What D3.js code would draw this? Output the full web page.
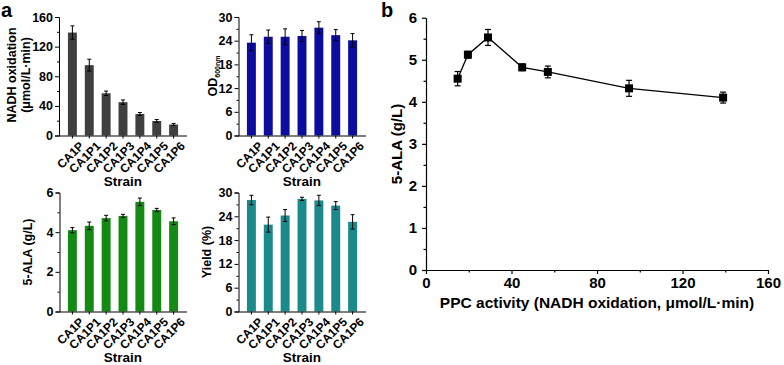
<!DOCTYPE html>
<html>
<head>
<meta charset="utf-8">
<script src="https://cdn.jsdelivr.net/npm/d3@7"></script>
<style>
  body { margin: 0; background: #fff; }
  svg text { font-family: Arial, "Liberation Sans", sans-serif; font-weight: bold; fill: #000; }
</style>
</head>
<body>
<div id="dataviz"></div>
<script>
// strain data
var strains = ["CA1P", "CA1P1", "CA1P2", "CA1P3", "CA1P4", "CA1P5", "CA1P6"];
var nadh = [139, 95, 57, 45, 29, 19.6, 14.8];
var nadhErr = [9, 8, 3, 3, 2, 2, 1.5];
var od = [23.5, 25.0, 25.0, 25.2, 27.3, 25.4, 24.1];
var odErr = [2.0, 1.7, 2.0, 1.4, 1.5, 1.4, 1.7];
var ala = [4.1, 4.32, 4.71, 4.82, 5.53, 5.12, 4.55];
var alaErr = [0.13, 0.19, 0.14, 0.08, 0.19, 0.08, 0.17];
var yieldPct = [28.1, 21.9, 24.2, 28.4, 28.0, 26.7, 22.6];
var yieldErr = [1.2, 1.9, 1.5, 0.4, 1.3, 1.0, 1.8];

var W = 784, H = 365;
var svg = d3.select("#dataviz").append("svg")
    .attr("width", W).attr("height", H);
var fmt = d3.format("d");

// small bar panel
function barPanel(opt) {
    var g = svg.append("g");
    var x = d3.scaleBand().domain(strains).range([opt.x0, opt.x1]).padding(0.47);
    var y = d3.scaleLinear().domain([0, opt.max]).range([opt.yb, opt.yt]);

    // bars
    g.selectAll(".bar").data(strains).enter().append("rect")
        .attr("x", function(d) { return x(d); })
        .attr("width", x.bandwidth())
        .attr("y", function(d, i) { return y(opt.values[i]); })
        .attr("height", function(d, i) { return y(0) - y(opt.values[i]); })
        .attr("fill", opt.color);

    // error bars
    strains.forEach(function(d, i) {
        var cx = x(d) + x.bandwidth() / 2;
        var hi = y(opt.values[i] + opt.errs[i]);
        var lo = y(opt.values[i] - opt.errs[i]);
        g.append("line").attr("x1", cx).attr("x2", cx).attr("y1", hi).attr("y2", lo)
            .attr("stroke", "#000").attr("stroke-width", 1);
        [hi, lo].forEach(function(yy) {
            g.append("line").attr("x1", cx - 2).attr("x2", cx + 2).attr("y1", yy).attr("y2", yy)
                .attr("stroke", "#000").attr("stroke-width", 1);
        });
    });

    // y axis
    var ya = g.append("g").attr("transform", "translate(" + opt.ax + ",0)")
        .call(d3.axisLeft(y).tickValues(opt.ticks).tickFormat(fmt).tickSize(4).tickPadding(2));
    ya.selectAll("text").style("font-size", "12.5px");
    var minor = opt.ticks.slice(0, -1).map(function(t, i) { return (t + opt.ticks[i + 1]) / 2; });
    g.append("g").attr("transform", "translate(" + opt.ax + ",0)")
        .call(d3.axisLeft(y).tickValues(minor).tickSize(2).tickFormat(""))
        .select(".domain").remove();

    // x axis
    var xa = g.append("g").attr("transform", "translate(0," + opt.yb + ")")
        .call(d3.axisBottom(x).tickSize(3).tickSizeOuter(0));
    xa.select(".domain").attr("d", "M" + opt.ax + ",0.5H" + (opt.x1 + 1));
    xa.selectAll("text")
        .style("font-size", "12px")
        .style("text-anchor", "end")
        .attr("dy", "0.35em")
        .attr("transform", "translate(5,4) rotate(-45)");
    g.selectAll(".domain, .tick line").attr("stroke", "#000").attr("stroke-width", 1);

    // axis titles
    g.append("text").attr("x", (opt.x0 + opt.x1) / 2).attr("y", opt.yb + 50)
        .style("font-size", "13.5px").style("text-anchor", "middle").text("Strain");
    return { g: g, y: y };
}

var p1 = barPanel({ x0: 60, x1: 186, ax: 59, yb: 135.5, yt: 17, max: 160, ticks: [0, 40, 80, 120, 160],
    values: nadh, errs: nadhErr, color: "#3f3f3f" });
var p2 = barPanel({ x0: 239, x1: 365, ax: 238.5, yb: 135.5, yt: 17, max: 30, ticks: [0, 6, 12, 18, 24, 30],
    values: od, errs: odErr, color: "#0c0c9e" });
var p3 = barPanel({ x0: 60, x1: 186, ax: 59.5, yb: 311.5, yt: 192.5, max: 6, ticks: [0, 2, 4, 6],
    values: ala, errs: alaErr, color: "#148a14" });
var p4 = barPanel({ x0: 239, x1: 365, ax: 238.5, yb: 311.5, yt: 192.5, max: 30, ticks: [0, 6, 12, 18, 24, 30],
    values: yieldPct, errs: yieldErr, color: "#1b8a8a" });

// y titles for panel a
var t1 = svg.append("text").attr("transform", "translate(16,75) rotate(-90)")
    .style("font-size", "12.5px").style("text-anchor", "middle");
t1.append("tspan").attr("x", 0).attr("dy", 0).text("NADH oxidation");
t1.append("tspan").attr("x", 0).attr("dy", 14).text("(\u03bcmol/L\u00b7min)");

var t2 = svg.append("text").attr("transform", "translate(217,76) rotate(-90)")
    .style("font-size", "12.5px").style("text-anchor", "middle");
t2.append("tspan").text("OD");
t2.append("tspan").style("font-size", "7px").attr("dy", 3).text("600nm");

svg.append("text").attr("transform", "translate(32,252) rotate(-90)")
    .style("font-size", "12.5px").style("text-anchor", "middle").text("5-ALA (g/L)");
svg.append("text").attr("transform", "translate(211,252) rotate(-90)")
    .style("font-size", "12.5px").style("text-anchor", "middle").text("Yield (%)");

// panel letters
svg.append("text").attr("x", 1).attr("y", 17).style("font-size", "20px").text("a");
svg.append("text").attr("x", 381).attr("y", 17).style("font-size", "20px").text("b");

// panel b: 5-ALA against PPC activity
var bx = d3.scaleLinear().domain([0, 160]).range([426, 768]);
var by = d3.scaleLinear().domain([0, 6]).range([270, 17.7]);
var gb = svg.append("g");

var xab = gb.append("g").attr("transform", "translate(0,270)")
    .call(d3.axisBottom(bx).tickValues([0, 40, 80, 120, 160]).tickFormat(fmt).tickSize(4).tickSizeOuter(0).tickPadding(3));
xab.selectAll("text").style("font-size", "15px");
gb.append("g").attr("transform", "translate(0,270)")
    .call(d3.axisBottom(bx).tickValues([20, 60, 100, 140]).tickSize(2.5).tickFormat(""))
    .select(".domain").remove();

var yab = gb.append("g").attr("transform", "translate(426,0)")
    .call(d3.axisLeft(by).tickValues([0, 1, 2, 3, 4, 5, 6]).tickFormat(fmt).tickSize(4).tickSizeOuter(0).tickPadding(5));
yab.selectAll("text").style("font-size", "15px");
gb.append("g").attr("transform", "translate(426,0)")
    .call(d3.axisLeft(by).tickValues([0.5, 1.5, 2.5, 3.5, 4.5, 5.5]).tickSize(2.5).tickFormat(""))
    .select(".domain").remove();
gb.selectAll(".domain, .tick line").attr("stroke", "#000").attr("stroke-width", 1.2);

var pts = nadh.map(function(v, i) { return { x: v, y: ala[i], e: alaErr[i] }; })
    .sort(function(a, b) { return a.x - b.x; });

gb.append("path").datum(pts)
    .attr("fill", "none").attr("stroke", "#000").attr("stroke-width", 1.3)
    .attr("d", d3.line().x(function(d) { return bx(d.x); }).y(function(d) { return by(d.y); }));

pts.forEach(function(d) {
    var cx = bx(d.x), hi = by(d.y + d.e), lo = by(d.y - d.e);
    gb.append("line").attr("x1", cx).attr("x2", cx).attr("y1", hi).attr("y2", lo)
        .attr("stroke", "#000").attr("stroke-width", 1.2);
    [hi, lo].forEach(function(yy) {
        gb.append("line").attr("x1", cx - 3).attr("x2", cx + 3).attr("y1", yy).attr("y2", yy)
            .attr("stroke", "#000").attr("stroke-width", 1.2);
    });
});

gb.selectAll(".pt").data(pts).enter().append("rect")
    .attr("x", function(d) { return bx(d.x) - 4; })
    .attr("y", function(d) { return by(d.y) - 4; })
    .attr("width", 8).attr("height", 8)
    .attr("fill", "#000");

svg.append("text").attr("transform", "translate(402,144) rotate(-90)")
    .style("font-size", "15px").style("text-anchor", "middle").text("5-ALA (g/L)");
svg.append("text").attr("x", 597).attr("y", 308)
    .style("font-size", "15.5px").style("text-anchor", "middle")
    .text("PPC activity (NADH oxidation, \u03bcmol/L\u00b7min)");
</script>
</body>
</html>
